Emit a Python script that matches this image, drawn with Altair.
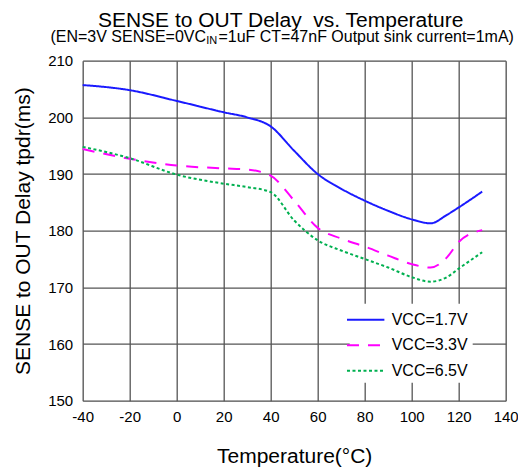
import altair as alt
import pandas as pd

temps = [-40, -20, 0, 20, 30, 40, 50, 60, 70, 80, 90, 100, 108, 115, 120, 130]
vcc17 = [205.7, 204.8, 202.9, 200.9, 200.0, 198.4, 194.1, 190.0, 187.4, 185.3, 183.5, 182.0, 181.3, 182.8, 184.1, 186.9]
vcc33 = [194.4, 192.7, 191.5, 191.0, 190.8, 189.7, 185.3, 180.5, 178.6, 177.2, 175.6, 174.1, 173.5, 175.3, 178.0, 180.1]
vcc65 = [194.8, 192.8, 189.9, 188.3, 187.7, 186.8, 181.8, 178.3, 176.5, 175.0, 173.5, 171.8, 171.0, 171.8, 173.3, 176.2]
series_names = ["VCC=1.7V", "VCC=3.3V", "VCC=6.5V"]
series_colors = ["#1a1aff", "#ff00ff", "#00b050"]
series_dashes = [[1, 0], [12, 9], [3, 2.5]]
x_ticks = [-40, -20, 0, 20, 40, 60, 80, 100, 120, 140]
y_ticks = [150, 160, 170, 180, 190, 200, 210]

rows = []
for name, vals in zip(series_names, [vcc17, vcc33, vcc65]):
    for t, v in zip(temps, vals):
        rows.append({"T": t, "delay": v, "series": name})
df = pd.DataFrame(rows)

FONT = "Liberation Sans"

legend_kw = dict(title=None, orient="none", legendX=267, legendY=243,
                 symbolType="M-1.7,0H1.7", symbolSize=484, symbolStrokeWidth=2,
                 labelOffset=14, labelFont=FONT, labelFontSize=16, labelColor="#000",
                 rowPadding=5.5, fillColor="white", padding=4)

lines = alt.Chart(df).mark_line(interpolate="monotone", strokeWidth=2).encode(
    x=alt.X("T:Q", scale=alt.Scale(domain=[-40, 140], nice=False),
            axis=alt.Axis(values=x_ticks, title="Temperature(°C)", titleFontSize=21,
                          titleFont=FONT, titleFontWeight="normal", titlePadding=21,
                          titleColor="#000", labelExpr="'' + datum.value",
                          labelFont=FONT, labelFontSize=15, labelColor="#000",
                          labelPadding=9, ticks=False, domain=False,
                          gridColor="#555", gridWidth=1.3, labelFlush=False)),
    y=alt.Y("delay:Q", scale=alt.Scale(domain=[150, 210], nice=False),
            axis=alt.Axis(values=y_ticks, title="SENSE to OUT Delay tpdr(ms)", titleFontSize=21,
                          titleFont=FONT, titleFontWeight="normal", titlePadding=14,
                          titleColor="#000",
                          labelFont=FONT, labelFontSize=15, labelColor="#000",
                          labelPadding=10, ticks=False, domain=False,
                          gridColor="#555", gridWidth=1.3, labelFlush=False)),
    color=alt.Color("series:N", scale=alt.Scale(domain=series_names, range=series_colors),
                    legend=alt.Legend(**legend_kw)),
    strokeDash=alt.StrokeDash("series:N", scale=alt.Scale(domain=series_names, range=series_dashes),
                              legend=alt.Legend(**legend_kw)),
)

title_df = pd.DataFrame({"t": ["SENSE to OUT Delay \u00a0vs. Temperature"]})
sub1_df = pd.DataFrame({"t": ["(EN=3V SENSE=0VC"]})
sub2_df = pd.DataFrame({"t": ["IN"]})
sub3_df = pd.DataFrame({"t": ["=1uF CT=47nF Output sink current=1mA)"]})

title_mark = alt.Chart(title_df).mark_text(font=FONT, fontSize=21, align="center", baseline="alphabetic", color="#000").encode(
    text="t:N", x=alt.value(198), y=alt.value(-33.5))
sub1 = alt.Chart(sub1_df).mark_text(font=FONT, fontSize=16, align="right", baseline="alphabetic", color="#000").encode(
    text="t:N", x=alt.value(123.3), y=alt.value(-19))
sub2 = alt.Chart(sub2_df).mark_text(font=FONT, fontSize=11, align="left", baseline="alphabetic", color="#000").encode(
    text="t:N", x=alt.value(123.6), y=alt.value(-16.2))
sub3 = alt.Chart(sub3_df).mark_text(font=FONT, fontSize=16, align="left", baseline="alphabetic", color="#000").encode(
    text="t:N", x=alt.value(135.8), y=alt.value(-19))

chart = alt.layer(lines, title_mark, sub1, sub2, sub3).properties(
    width=423, height=340,
    autosize=alt.AutoSizeParams(type="none"),
    padding={"left": 74.7, "top": 52.7, "right": 12, "bottom": 70},
).configure_view(stroke="#000", strokeWidth=2).configure(background="white")

chart.save("out.html", embed_options={"renderer": "svg", "actions": False})
